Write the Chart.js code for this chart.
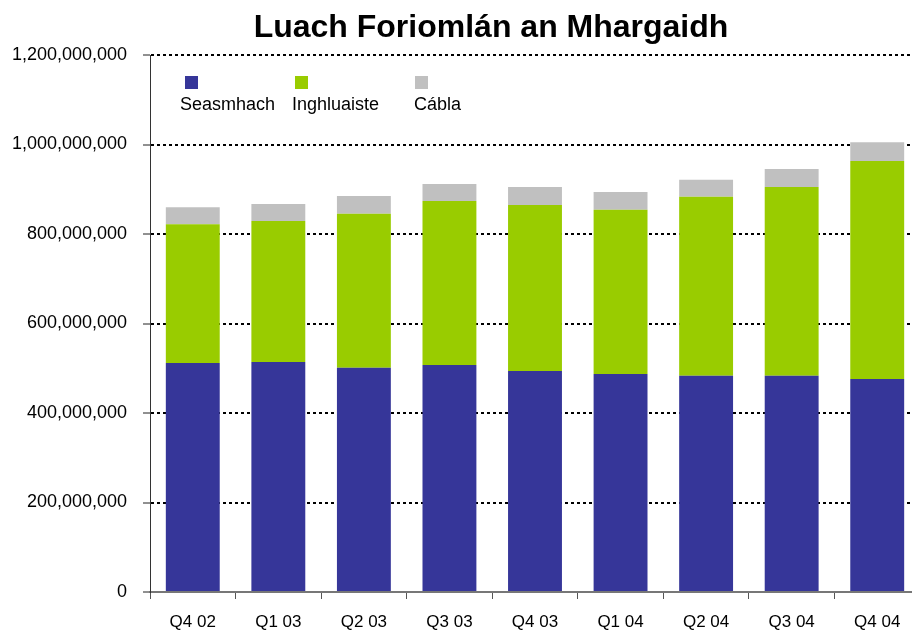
<!DOCTYPE html>
<html>
<head>
<meta charset="utf-8">
<script src="https://cdn.jsdelivr.net/npm/chart.js@4"></script>
<style>
html,body{margin:0;padding:0;background:#fff;overflow:hidden;}
#wrap{position:relative;width:920px;height:630px;}
</style>
</head>
<body>
<div id="wrap"><canvas id="c" width="920" height="630"></canvas></div>
<script>
const chartTitle = "Luach Foriomlán an Mhargaidh";
const categories = ["Q4 02","Q1 03","Q2 03","Q3 03","Q4 03","Q1 04","Q2 04","Q3 04","Q4 04"];
const seriesNames = ["Seasmhach","Inghluaiste","Cábla"];
const seasmhach   = [512000000,514000000,501000000,507000000,494000000,487000000,483000000,483000000,476000000];
const inghluaiste = [310000000,315000000,344000000,367000000,371000000,367000000,400000000,422000000,487000000];
const cabla       = [ 38000000, 38000000, 40000000, 38000000, 40000000, 40000000, 38000000, 40000000, 42000000];
const yTicks = [0,200000000,400000000,600000000,800000000,1000000000,1200000000];

const colors = ["#363699","#99CC00","#C0C0C0"];
const FONT = "'Liberation Sans', Arial, sans-serif";

const titlePlugin = {
  id: 'customTitle',
  afterDraw(chart) {
    const ctx = chart.ctx;
    ctx.save();
    ctx.font = "bold 32px " + FONT;
    ctx.fillStyle = "#000";
    ctx.textAlign = "center";
    ctx.textBaseline = "alphabetic";
    ctx.fillText(chartTitle, 491, 37);
    ctx.restore();
  }
};

const legendPlugin = {
  id: 'customLegend',
  afterDraw(chart) {
    const ctx = chart.ctx;
    const boxX = [185, 295, 415];
    const textX = [180, 292, 414];
    ctx.save();
    ctx.font = "18px " + FONT;
    ctx.textAlign = "left";
    ctx.textBaseline = "alphabetic";
    chart.data.datasets.forEach((ds, i) => {
      ctx.fillStyle = ds.backgroundColor;
      ctx.fillRect(boxX[i], 76, 13, 13);
      ctx.fillStyle = "#000";
      ctx.fillText(ds.label, textX[i], 110);
    });
    ctx.restore();
  }
};

new Chart(document.getElementById('c'), {
  type: 'bar',
  data: {
    labels: categories,
    datasets: [
      {label: seriesNames[0], data: seasmhach, backgroundColor: colors[0]},
      {label: seriesNames[1], data: inghluaiste, backgroundColor: colors[1]},
      {label: seriesNames[2], data: cabla, backgroundColor: colors[2]}
    ]
  },
  options: {
    responsive: false,
    animation: false,
    devicePixelRatio: 1,
    layout: {padding: {top: 55, left: 0, right: 0, bottom: 0}},
    datasets: {bar: {barPercentage: 0.63, categoryPercentage: 1.0, borderWidth: 0}},
    plugins: {
      legend: {display: false},
      title: {display: false},
      tooltip: {enabled: false}
    },
    scales: {
      x: {
        stacked: true,
        afterFit(s) { s.height = 38; },
        grid: {display: true, drawOnChartArea: false, drawTicks: true, tickLength: 7, color: '#555', tickWidth: 1, offset: true},
        border: {display: true, color: '#777', width: 2},
        ticks: {color: '#000', font: {family: FONT, size: 17}, padding: 13, maxRotation: 0, autoSkip: false}
      },
      y: {
        stacked: true,
        min: 0,
        max: 1200000000,
        afterFit(s) { s.width = 150; },
        afterBuildTicks(s) { s.ticks = yTicks.map(v => ({value: v})); },
        grid: {
          display: true,
          drawTicks: true,
          tickLength: 7,
          lineWidth: 2,
          color: (c) => (c.tick && c.tick.value === 0) ? 'rgba(0,0,0,0)' : '#000',
          tickColor: '#222',
          tickWidth: 1
        },
        border: {display: true, color: '#333', width: 1, dash: [3,3]},
        ticks: {
          color: '#000',
          font: {family: FONT, size: 18},
          padding: 16,
          callback: (v) => Number(v).toLocaleString('en-US')
        }
      }
    }
  },
  plugins: [titlePlugin, legendPlugin]
});
</script>
</body>
</html>
